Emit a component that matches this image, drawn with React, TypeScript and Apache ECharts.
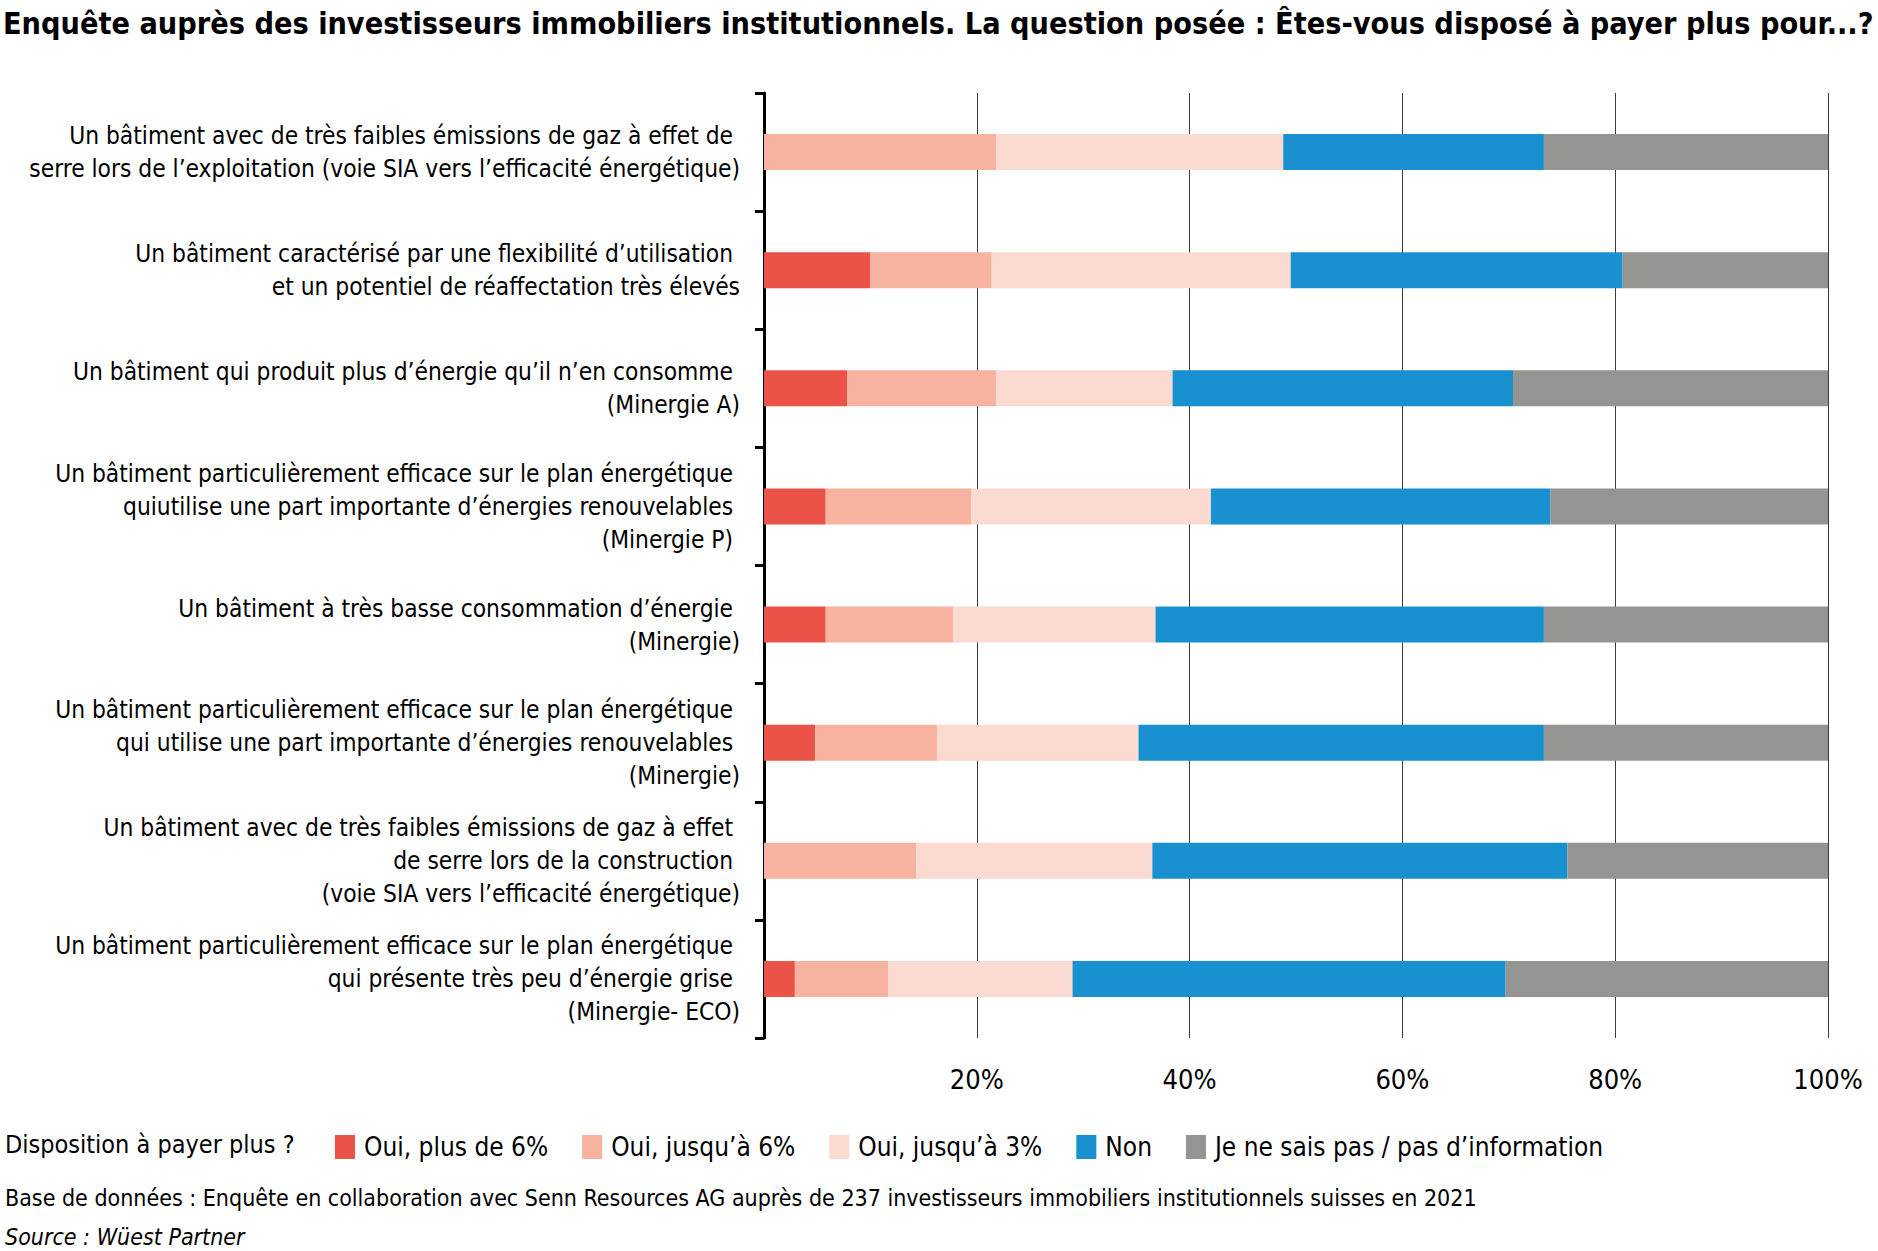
import React, { useEffect, useRef } from "react";
import * as echarts from "echarts";

const categories = [
  "Un bâtiment avec de très faibles émissions de gaz à effet de \nserre lors de l’exploitation (voie SIA vers l’efficacité énergétique)",
  "Un bâtiment caractérisé par une flexibilité d’utilisation \net un potentiel de réaffectation très élevés",
  "Un bâtiment qui produit plus d’énergie qu’il n’en consomme \n(Minergie A)",
  "Un bâtiment particulièrement efficace sur le plan énergétique \nquiutilise une part importante d’énergies renouvelables \n(Minergie P) ",
  "Un bâtiment à très basse consommation d’énergie \n(Minergie)",
  "Un bâtiment particulièrement efficace sur le plan énergétique \nqui utilise une part importante d’énergies renouvelables \n(Minergie)",
  "Un bâtiment avec de très faibles émissions de gaz à effet \nde serre lors de la construction \n(voie SIA vers l’efficacité énergétique)",
  "Un bâtiment particulièrement efficace sur le plan énergétique \nqui présente très peu d’énergie grise \n(Minergie- ECO)",
];

const seriesNames = [
  "Oui, plus de 6%",
  "Oui, jusqu’à 6%",
  "Oui, jusqu’à 3%",
  "Non",
  "Je ne sais pas / pas d’information",
];
const ouiPlus6 = [0, 10.0, 7.8, 5.8, 5.8, 4.8, 0, 2.9];
const ouiJusqua6 = [21.8, 11.4, 14.0, 13.7, 12.0, 11.5, 14.3, 8.8];
const ouiJusqua3 = [27.0, 28.1, 16.6, 22.5, 19.0, 18.9, 22.2, 17.3];
const non = [24.5, 31.2, 32.0, 31.9, 36.5, 38.1, 39.0, 40.7];
const nsp = [26.7, 19.3, 29.6, 26.1, 26.7, 26.7, 24.5, 30.3];
const colors = ["#EB5248", "#F7B2A0", "#FADAD1", "#1990CF", "#949493"];

const titleText =
  "Enquête auprès des investisseurs immobiliers institutionnels. La question posée : Êtes-vous disposé à payer plus pour...?";
const legendTitle = "Disposition à payer plus ?";
const footer1 =
  "Base de données : Enquête en collaboration avec Senn Resources AG auprès de 237 investisseurs immobiliers institutionnels suisses en 2021";
const footer2 = "Source : Wüest Partner";

const FONT = "'Liberation Sans Narrow', 'DejaVu Sans Condensed', 'Roboto Condensed', 'Liberation Sans', sans-serif";

export default function App() {
  const ref = useRef<HTMLDivElement>(null);
  useEffect(() => {
    if (!ref.current) return;
    const chart = echarts.init(ref.current, undefined, { renderer: "svg" });
    const values = [ouiPlus6, ouiJusqua6, ouiJusqua3, non, nsp];
    chart.setOption({
      animation: false,
      backgroundColor: "#ffffff",
      textStyle: { fontFamily: FONT, color: "#000" },
      title: [
        {
          text: titleText,
          left: -2,
          top: 3,
          textStyle: { fontFamily: FONT, fontSize: 30.3, fontWeight: "bold", color: "#000" },
        },
        {
          text: legendTitle,
          left: 0,
          top: 1127,
          textStyle: { fontFamily: FONT, fontSize: 25, fontWeight: "normal", color: "#000" },
        },
        {
          text: footer1,
          left: 0,
          top: 1181,
          textStyle: { fontFamily: FONT, fontSize: 23, fontWeight: "normal", color: "#000" },
        },
        {
          text: footer2,
          left: 0,
          top: 1220,
          textStyle: { fontFamily: FONT, fontSize: 23, fontWeight: "normal", fontStyle: "italic", color: "#000" },
        },
      ],
      legend: {
        left: 330,
        top: 1129,
        itemWidth: 20,
        itemHeight: 24,
        itemGap: 34,
        icon: "rect",
        selectedMode: false,
        data: seriesNames,
        textStyle: { fontFamily: FONT, fontSize: 26, color: "#000", padding: [0, 0, 0, 4] },
      },
      grid: { left: 764, right: 50, top: 93, bottom: 213, containLabel: false, outerBoundsMode: "none" },
      xAxis: {
        type: "value",
        min: 0,
        max: 100,
        interval: 20,
        axisLine: { show: false },
        axisTick: { show: false },
        splitLine: { show: true, lineStyle: { color: "#3a3a3a", width: 1 } },
        axisLabel: {
          margin: 28,
          fontSize: 27,
          color: "#000",
          fontFamily: FONT,
          formatter: (v: number) => (v === 0 ? "" : `${v}%`),
        },
      },
      yAxis: {
        type: "category",
        inverse: true,
        data: categories,
        axisLine: { show: true, lineStyle: { color: "#000", width: 3 } },
        axisTick: { show: true, length: 9, lineStyle: { color: "#000", width: 3 } },
        axisLabel: {
          margin: 24,
          fontSize: 24.3,
          lineHeight: 33,
          color: "#000",
          fontFamily: FONT,
          align: "right",
        },
      },
      series: seriesNames.map((name, i) => ({
        name,
        type: "bar",
        stack: "total",
        barWidth: 36,
        itemStyle: { color: colors[i] },
        data: values[i],
      })),
    });
    return () => chart.dispose();
  }, []);
  return (
    <div
      ref={ref}
      style={{ position: "fixed", left: 0, top: 0, width: 1878, height: 1251, background: "#fff" }}
    />
  );
}
